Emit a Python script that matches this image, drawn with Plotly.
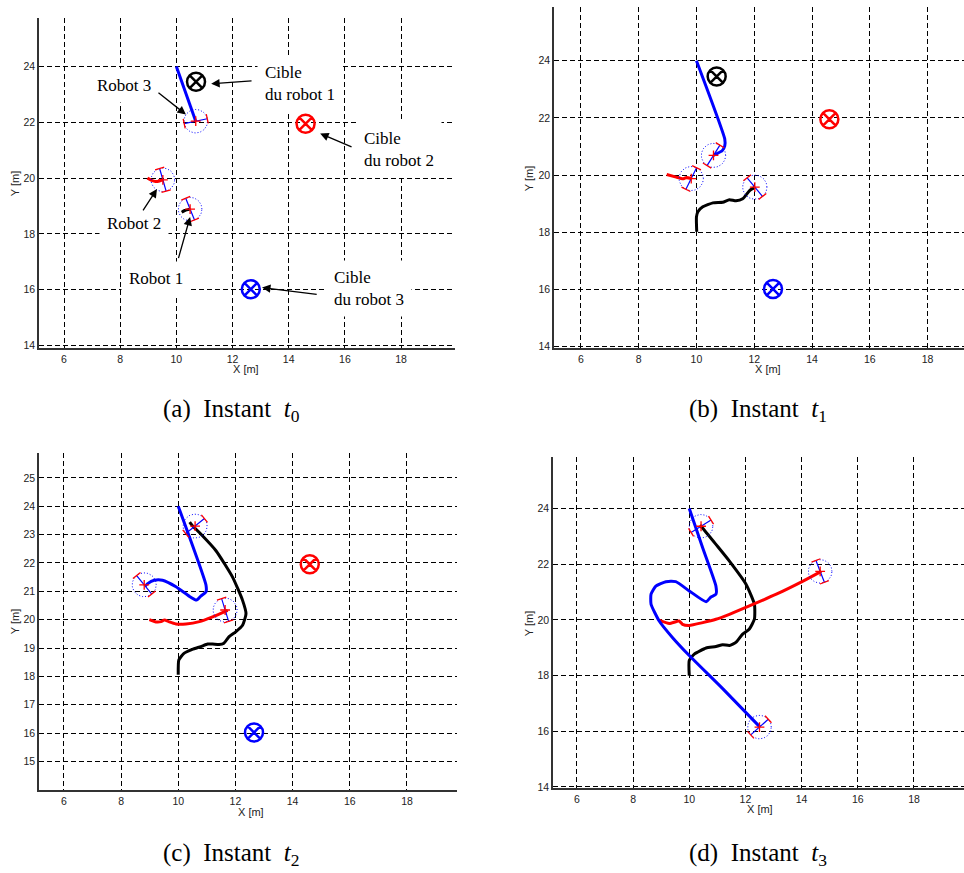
import numpy as np
import plotly.graph_objects as go

W, H = 964, 873

# ---------------- data ----------------
# targets (Cible): robot 1 (black), robot 2 (red), robot 3 (blue)
target_x = [10.70, 14.60, 12.65]
target_y = [23.45, 21.95, 16.02]
target_col = ["black", "red", "blue"]
# which targets are drawn in each panel
targets_shown = {"a": [0, 1, 2], "b": [0, 1, 2], "c": [1, 2], "d": []}

# trajectories, panel (a)
r1_a_x = [10.19, 10.30, 10.49]
r1_a_y = [18.78, 18.84, 18.89]
r2_a_x = [8.97, 9.10, 9.26, 9.40, 9.52]
r2_a_y = [20.00, 19.93, 19.88, 19.90, 19.94]
r3_a_x = [10.00, 10.69]
r3_a_y = [24.00, 22.04]

# panel (b)
r1_b_x = [10.01, 10.00, 10.05, 10.22, 10.57, 10.91, 11.14, 11.37, 11.60, 11.84, 12.03]
r1_b_y = [18.02, 18.54, 18.72, 18.89, 19.03, 19.05, 19.14, 19.10, 19.17, 19.46, 19.58]
r2_b_x = [8.97, 9.30, 9.53, 9.66, 9.82]
r2_b_y = [20.02, 19.93, 19.87, 19.92, 19.88]
r3_b_x = [10.00, 10.98, 10.98, 10.89, 10.68, 10.59]
r3_b_y = [24.00, 21.26, 21.02, 20.85, 20.74, 20.69]

# panel (c)
r1_c_x = [10.00, 10.02, 10.20, 10.49, 10.79, 11.03, 11.20, 11.43, 11.60, 11.78, 12.01,
          12.25, 12.37, 12.25, 11.90, 11.32, 10.73, 10.49, 10.40]
r1_c_y = [18.06, 18.58, 18.81, 18.95, 19.05, 19.14, 19.14, 19.12, 19.17, 19.40, 19.57,
          19.80, 20.21, 20.68, 21.50, 22.43, 23.08, 23.32, 23.44]
r2_c_x = [8.99, 9.22, 9.40, 9.52, 9.69, 9.92, 10.27, 10.74, 11.20, 11.73]
r2_c_y = [20.00, 19.92, 19.93, 19.99, 19.92, 19.85, 19.85, 19.93, 20.10, 20.33]
r3_c_x = [10.00, 10.97, 10.97, 10.79, 10.64, 10.38, 9.92, 9.45, 9.16, 8.93, 8.84]
r3_c_y = [24.00, 21.22, 20.98, 20.83, 20.69, 20.83, 21.16, 21.39, 21.39, 21.27, 21.18]

# panel (d)
r1_d_x = [10.00, 10.00, 10.18, 10.60, 10.95, 11.19, 11.43, 11.67, 11.90, 12.14, 12.32,
          12.32, 12.02, 11.43, 10.95, 10.48, 10.38]
r1_d_y = [18.00, 18.54, 18.77, 18.99, 19.04, 19.11, 19.08, 19.20, 19.49, 19.67, 20.03,
          20.56, 21.28, 22.11, 22.71, 23.29, 23.40]
r2_d_x = [8.93, 9.29, 9.64, 9.76, 10.00, 10.48, 10.95, 11.43, 12.14, 13.10, 14.05, 14.70]
r2_d_y = [19.99, 19.87, 19.96, 19.84, 19.80, 19.90, 20.02, 20.20, 20.50, 20.92, 21.39, 21.74]
r3_d_x = [10.00, 10.48, 10.95, 10.95, 10.77, 10.60, 10.00, 9.52, 9.17, 8.81, 8.64, 8.64,
          8.93, 9.40, 10.00, 11.19, 12.52]
r3_d_y = [24.00, 22.58, 21.21, 20.92, 20.82, 20.65, 21.04, 21.37, 21.37, 21.21, 20.92, 20.56,
          19.96, 19.37, 18.72, 17.53, 16.15]

traj = {
    "a": [(r1_a_x, r1_a_y), (r2_a_x, r2_a_y), (r3_a_x, r3_a_y)],
    "b": [(r1_b_x, r1_b_y), (r2_b_x, r2_b_y), (r3_b_x, r3_b_y)],
    "c": [(r1_c_x, r1_c_y), (r2_c_x, r2_c_y), (r3_c_x, r3_c_y)],
    "d": [(r1_d_x, r1_d_y), (r2_d_x, r2_d_y), (r3_d_x, r3_d_y)],
}
traj_col = ["black", "red", "blue"]

# robot poses per panel: centre x, centre y, axle angle (deg)  [robot1, robot2, robot3]
pose_x = {"a": [10.49, 9.52, 10.69], "b": [12.02, 9.82, 10.59],
          "c": [10.59, 11.64, 8.81], "d": [10.42, 14.66, 12.50]}
pose_y = {"a": [18.89, 19.94, 22.04], "b": [19.58, 19.88, 20.69],
          "c": [23.30, 20.34, 21.23], "d": [23.36, 21.74, 16.15]}
pose_ang = {"a": [-68, -74, 12], "b": [-51, 64, 58],
            "c": [39, -73, -51], "d": [32, -69, 42]}

x_ticks = [6, 8, 10, 12, 14, 16, 18]
y_ticks = {"a": [14, 16, 18, 20, 22, 24], "b": [14, 16, 18, 20, 22, 24],
           "c": [15, 16, 17, 18, 19, 20, 21, 22, 23, 24, 25], "d": [14, 16, 18, 20, 22, 24]}

captions = {"a": ("(a)", "0"), "b": ("(b)", "1"), "c": ("(c)", "2"), "d": ("(d)", "3")}

# annotation texts of panel (a)
ann_text = ["Robot 3", "Cible<br>du robot 1", "Cible<br>du robot 2",
            "Robot 2", "Robot 1", "Cible<br>du robot 3"]
ann_x = [8.12, 12.87, 16.40, 8.49, 9.28, 15.33]
ann_y = [23.31, 23.38, 21.03, 18.36, 16.40, 16.04]
ann_left = [False, True, True, False, False, True]
arrow_tail_x = [9.31, 12.73, 16.29, 8.78, 10.06, 15.05]
arrow_tail_y = [23.10, 23.49, 21.10, 18.79, 17.08, 15.83]
arrow_head_x = [10.34, 11.24, 15.12, 9.31, 10.49, 13.05]
arrow_head_y = [22.28, 23.38, 21.60, 19.61, 18.61, 16.08]

SERIF = "Liberation Serif, Times New Roman, serif"
SANS = "Liberation Sans, Arial, sans-serif"

# ---------------- layout helpers ----------------
def px(x):
    return x / W

def py(y):
    return 1 - y / H

panel_axes = {"a": ("x", "y", "xaxis", "yaxis"), "b": ("x2", "y2", "xaxis2", "yaxis2"),
              "c": ("x3", "y3", "xaxis3", "yaxis3"), "d": ("x4", "y4", "xaxis4", "yaxis4")}
panel_dom = {
    "a": ([px(39), px(455)], [py(350), py(18)]),
    "b": ([px(554), 1.0], [py(350), py(7)]),
    "c": ([px(39), px(457)], [py(794), py(455)]),
    "d": ([px(553), 1.0], [py(792), py(459)]),
}
panel_range = {
    "a": ([5.11, 19.92], [13.90, 25.74]),
    "b": ([5.07, 19.26], [13.94, 25.88]),
    "c": ([5.13, 19.75], [13.98, 25.88]),
    "d": ([5.15, 19.78], [13.95, 25.85]),
}
xtitle_pos = {"a": (246, 371), "b": (768, 371), "c": (251, 816), "d": (760, 813)}
ytitle_pos = {"a": (15, 185), "b": (529, 180), "c": (15, 625), "d": (529, 627)}
caption_pos = {"a": (231, 412), "b": (758, 412), "c": (231, 858), "d": (758, 858)}

fig = go.Figure()

R = 0.42
WH = 0.17

def add_robot(cx, cy, ang, xa, ya):
    a = np.deg2rad(ang)
    ux, uy = np.cos(a), np.sin(a)          # axle direction
    hx, hy = -uy, ux                       # wheel direction
    t = np.linspace(0, 2 * np.pi, 60)
    fig.add_trace(go.Scatter(x=cx + R * np.cos(t), y=cy + R * np.sin(t), mode="lines",
                             line=dict(color="blue", width=1, dash="1px,2px"),
                             xaxis=xa, yaxis=ya, hoverinfo="skip"))
    fig.add_trace(go.Scatter(x=[cx - R * ux, cx + R * ux], y=[cy - R * uy, cy + R * uy],
                             mode="lines", line=dict(color="blue", width=1.2),
                             xaxis=xa, yaxis=ya, hoverinfo="skip"))
    wx, wy = [], []
    for s in (-1, 1):
        ex, ey = cx + s * R * ux, cy + s * R * uy
        wx += [ex - WH * hx, ex + WH * hx, None]
        wy += [ey - WH * hy, ey + WH * hy, None]
    fig.add_trace(go.Scatter(x=wx, y=wy, mode="lines", line=dict(color="red", width=1.3),
                             xaxis=xa, yaxis=ya, hoverinfo="skip"))
    fig.add_trace(go.Scatter(x=[cx], y=[cy], mode="markers",
                             marker=dict(symbol="cross-thin", size=7,
                                         line=dict(color="red", width=1.3)),
                             xaxis=xa, yaxis=ya, hoverinfo="skip"))

annotations = []
for p in ["a", "b", "c", "d"]:
    xa, ya, xk, yk = panel_axes[p]
    # trajectories
    for (tx, ty), col in zip(traj[p], traj_col):
        fig.add_trace(go.Scatter(x=tx, y=ty, mode="lines",
                                 line=dict(color=col, width=3, shape="spline", smoothing=0.5),
                                 xaxis=xa, yaxis=ya, hoverinfo="skip"))
    # robots
    for cx, cy, an in zip(pose_x[p], pose_y[p], pose_ang[p]):
        add_robot(cx, cy, an, xa, ya)
    # targets
    for i in targets_shown[p]:
        fig.add_trace(go.Scatter(x=[target_x[i]], y=[target_y[i]], mode="markers",
                                 marker=dict(symbol="circle-x-open", size=18,
                                             color=target_col[i],
                                             line=dict(color=target_col[i], width=2.5)),
                                 xaxis=xa, yaxis=ya, hoverinfo="skip"))
    xd, yd = panel_dom[p]
    xr, yr = panel_range[p]
    axis_common = dict(showgrid=True, gridcolor="black", griddash="5px,3px", gridwidth=1,
                       zeroline=False, showline=True, linecolor="#333333", linewidth=1.6,
                       mirror=False, ticks="", tickfont=dict(family=SANS, size=10.5,
                                                             color="#222222"))
    fig.layout[xk] = dict(domain=xd, range=xr, anchor=ya, tickvals=x_ticks, **axis_common)
    fig.layout[yk] = dict(domain=yd, range=yr, anchor=xa, tickvals=y_ticks[p], **axis_common)

    tx_, ty_ = xtitle_pos[p]
    annotations.append(dict(x=px(tx_), y=py(ty_), xref="paper", yref="paper", text="X [m]",
                            xanchor="center", yanchor="middle",
                            showarrow=False, font=dict(family=SANS, size=11, color="#222222")))
    tx_, ty_ = ytitle_pos[p]
    annotations.append(dict(x=px(tx_), y=py(ty_), xref="paper", yref="paper", text="Y [m]",
                            xanchor="center", yanchor="middle",
                            textangle=-90, showarrow=False,
                            font=dict(family=SANS, size=11, color="#222222")))
    lab, sub = captions[p]
    cx_, cy_ = caption_pos[p]
    annotations.append(dict(x=px(cx_), y=py(cy_), xref="paper", yref="paper",
                            xanchor="center", yanchor="middle",
                            text=f"{lab}&nbsp;&nbsp;Instant&nbsp;&nbsp;<i>t</i><sub>{sub}</sub>",
                            showarrow=False,
                            font=dict(family=SERIF, size=25, color="black")))

# panel (a) labels with white boxes, then arrows
for t, x, y, left in zip(ann_text, ann_x, ann_y, ann_left):
    annotations.append(dict(x=x, y=y, xref="x", yref="y", text=t, showarrow=False,
                            xanchor="left" if left else "center", yanchor="middle",
                            align="left", bgcolor="white", borderpad=7,
                            font=dict(family=SERIF, size=17, color="black")))
for x0, y0, x1, y1 in zip(arrow_tail_x, arrow_tail_y, arrow_head_x, arrow_head_y):
    annotations.append(dict(x=x1, y=y1, ax=x0, ay=y0, xref="x", yref="y", axref="x", ayref="y",
                            text="", showarrow=True, arrowhead=2, arrowsize=1.3,
                            arrowwidth=1.3, arrowcolor="black", standoff=0, startstandoff=0))

fig.update_layout(width=W, height=H, margin=dict(l=0, r=0, t=0, b=0),
                  paper_bgcolor="white", plot_bgcolor="white", showlegend=False,
                  annotations=annotations)

fig.write_html("out.html", config={"displayModeBar": False},
               post_script="document.body.style.margin='0px';"
                           "document.body.style.overflow='hidden';")
